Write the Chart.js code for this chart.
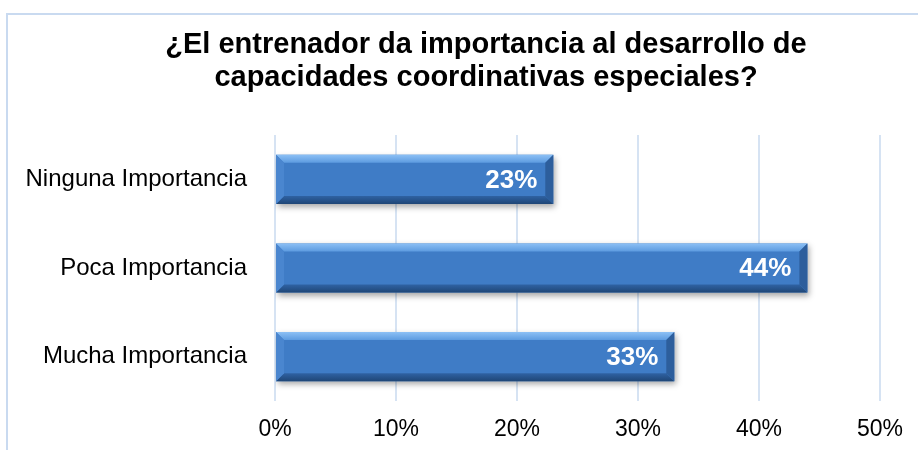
<!DOCTYPE html>
<html><head><meta charset="utf-8">
<script src="https://cdn.jsdelivr.net/npm/chart.js@4/dist/chart.umd.min.js"></script>
<style>html,body{margin:0;padding:0;background:#fff}</style>
</head><body>
<canvas id="c" width="918" height="450"></canvas>
<script>
const categories = ["Ninguna Importancia", "Poca Importancia", "Mucha Importancia"];
const values = [23, 44, 33];
const tickValues = [0, 10, 20, 30, 40, 50];
const titleLines = ["¿El entrenador da importancia al desarrollo de", "capacidades coordinativas especiales?"];

const frame = {
  id: 'frame',
  beforeDraw(chart) {
    const c = chart.ctx;
    c.save();
    c.strokeStyle = '#c9daf0';
    c.lineWidth = 2;
    c.beginPath();
    c.moveTo(7, 450); c.lineTo(7, 14); c.lineTo(918, 14);
    c.stroke();
    c.restore();
  }
};

const titleDraw = {
  id: 'titleDraw',
  afterDraw(chart) {
    const c = chart.ctx;
    c.save();
    c.fillStyle = '#000';
    c.font = 'bold 29px "Liberation Sans", Arial, sans-serif';
    c.textAlign = 'center';
    c.textBaseline = 'middle';
    titleLines.forEach((t, i) => c.fillText(t, 486, 45 + i * 33));
    c.restore();
  }
};

const bevel = {
  id: 'bevel',
  beforeDatasetDraw(chart) {
    const c = chart.ctx;
    c.save();
    c.shadowColor = 'rgba(0,0,0,0.35)';
    c.shadowBlur = 6;
    c.shadowOffsetX = 2;
    c.shadowOffsetY = 3;
  },
  afterDatasetDraw(chart) {
    const c = chart.ctx;
    c.restore();
    const meta = chart.getDatasetMeta(0);
    meta.data.forEach((bar, i) => {
      const x0 = bar.base, x1 = bar.x;
      const h = bar.height, y0 = bar.y - h / 2, y1 = bar.y + h / 2;
      const b = 8;
      c.save();
      let g = c.createLinearGradient(0, y0, 0, y0 + b);
      g.addColorStop(0, '#8cc0f5'); g.addColorStop(1, '#5d9be0');
      c.fillStyle = g;
      c.beginPath(); c.moveTo(x0, y0); c.lineTo(x1, y0); c.lineTo(x1 - b, y0 + b); c.lineTo(x0 + b, y0 + b); c.closePath(); c.fill();
      g = c.createLinearGradient(0, y1 - b, 0, y1);
      g.addColorStop(0, '#2f62a3'); g.addColorStop(1, '#1f4676');
      c.fillStyle = g;
      c.beginPath(); c.moveTo(x0, y1); c.lineTo(x1, y1); c.lineTo(x1 - b, y1 - b); c.lineTo(x0 + b, y1 - b); c.closePath(); c.fill();
      c.fillStyle = '#4a86cf';
      c.beginPath(); c.moveTo(x0, y0); c.lineTo(x0 + b, y0 + b); c.lineTo(x0 + b, y1 - b); c.lineTo(x0, y1); c.closePath(); c.fill();
      c.fillStyle = '#2d5e9c';
      c.beginPath(); c.moveTo(x1, y0); c.lineTo(x1 - b, y0 + b); c.lineTo(x1 - b, y1 - b); c.lineTo(x1, y1); c.closePath(); c.fill();
      c.fillStyle = '#ffffff';
      c.font = 'bold 26px "Liberation Sans", Arial, sans-serif';
      c.textAlign = 'right';
      c.textBaseline = 'middle';
      c.fillText(values[i] + '%', x1 - 16, bar.y + 1);
      c.restore();
    });
  }
};

new Chart(document.getElementById('c'), {
  type: 'bar',
  data: {
    labels: categories,
    datasets: [{
      data: values,
      backgroundColor: (ctx) => {
        const el = ctx.element;
        if (!el || el.height === undefined) return '#3f7cc6';
        const y0 = el.y - el.height / 2, y1 = el.y + el.height / 2;
        const g = ctx.chart.ctx.createLinearGradient(0, y0, 0, y1);
        g.addColorStop(0, '#4d8ad6'); g.addColorStop(0.5, '#3e7bc5'); g.addColorStop(1, '#336aae');
        return g;
      },
      borderWidth: 0,
      categoryPercentage: 1,
      barPercentage: 0.555
    }]
  },
  options: {
    indexAxis: 'y',
    responsive: false,
    animation: false,
    devicePixelRatio: 1,
    layout: { padding: { top: 135, right: 38, bottom: 0, left: 0 } },
    plugins: {
      legend: { display: false },
      tooltip: { enabled: false },
      title: { display: false }
    },
    scales: {
      x: {
        min: 0, max: 50,
        afterBuildTicks: (s) => { s.ticks = tickValues.map(v => ({ value: v })); },
        afterFit: (s) => { s.height = 49; },
        ticks: {
          callback: (v) => v + '%',
          color: '#000',
          font: { family: '"Liberation Sans", Arial, sans-serif', size: 23 },
          padding: 15,
          maxRotation: 0
        },
        grid: { color: '#d6e3f3', lineWidth: 2, drawTicks: false },
        border: { display: false }
      },
      y: {
        afterFit: (s) => { s.width = 275; },
        ticks: {
          color: '#000',
          font: { family: '"Liberation Sans", Arial, sans-serif', size: 24 },
          padding: 28
        },
        grid: { display: false, drawTicks: false },
        border: { display: false }
      }
    }
  },
  plugins: [frame, bevel, titleDraw]
});
</script>
</body></html>
